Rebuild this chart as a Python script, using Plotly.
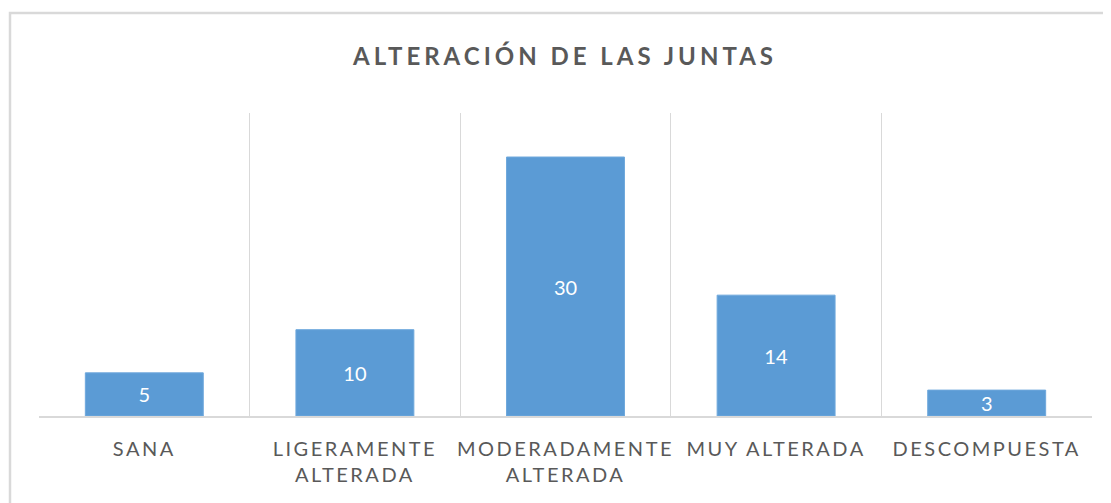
import plotly.graph_objects as go

categories = ["SANA", "LIGERAMENTE ALTERADA", "MODERADAMENTE ALTERADA", "MUY ALTERADA", "DESCOMPUESTA"]
tick_labels = ["SANA", "LIGERAMENTE<br>ALTERADA", "MODERADAMENTE<br>ALTERADA", "MUY ALTERADA", "DESCOMPUESTA"]
values = [5, 10, 30, 14, 3]
title_text = "ALTERACIÓN DE LAS JUNTAS"

def spaced(s, px):
    return '<span style="letter-spacing:%.1fpx">%s</span>' % (px, s)

# page body has an 8px offset; figure coordinates below account for it
OFF = 8
W, H = 1111, 503
L, R, T, B = 39 - OFF, W - (1092 - OFF), 113 - OFF, H - (416 - OFF)
pw, ph = W - L - R, H - T - B

fig = go.Figure()
fig.add_trace(go.Bar(
    x=categories,
    y=values,
    marker=dict(color="#5B9BD5", line=dict(color="#6FA8DC", width=1)),
    width=0.56,
    text=[str(v) for v in values],
    textposition="inside",
    insidetextanchor="middle",
    textangle=0,
    constraintext="none",
    cliponaxis=False,
    textfont=dict(color="white", size=20, family="Lato"),
    hoverinfo="skip",
))

fig.update_layout(
    width=W, height=H,
    margin=dict(l=L, r=R, t=T, b=B, autoexpand=False),
    paper_bgcolor="white",
    plot_bgcolor="white",
    showlegend=False,
    title=dict(
        text=spaced("<b>" + title_text + "</b>", 4),
        x=(565 - OFF) / W, xanchor="center", y=1 - (57 - OFF) / H, yanchor="middle",
        font=dict(family="Lato", size=24, color="#595959"),
    ),
    xaxis=dict(
        type="category",
        tickmode="array",
        tickvals=categories,
        ticktext=[spaced(t, 2.5) for t in tick_labels],
        tickson="boundaries",
        tickangle=0,
        automargin=False,
        showgrid=True, gridcolor="#D9D9D9", gridwidth=1,
        showline=True, linecolor="#D9D9D9", linewidth=1.5,
        ticks="",
        tickfont=dict(family="Lato", size=20, color="#595959"),
        ticklabelstandoff=14,
        zeroline=False,
    ),
    yaxis=dict(
        range=[0, 35.1],
        automargin=False,
        showgrid=False, showticklabels=False, zeroline=False, showline=False,
    ),
    shapes=[dict(
        type="rect", xref="paper", yref="paper",
        x0=(10 - 39) / pw, x1=1.1,
        y0=-0.4, y1=(416 - 13) / ph,
        line=dict(color="#D9D9D9", width=2.5),
        fillcolor="rgba(0,0,0,0)", layer="below",
    )],
)

fig.write_html("out.html")
